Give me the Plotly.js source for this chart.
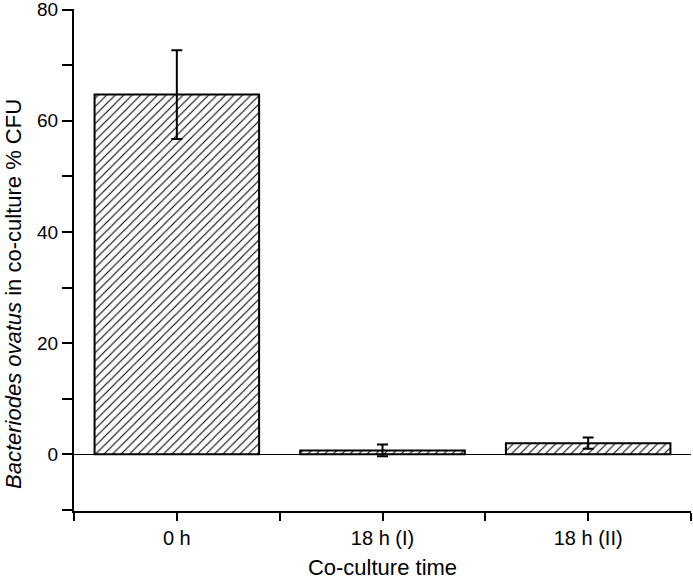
<!DOCTYPE html>
<html>
<head>
<meta charset="utf-8">
<script src="https://cdn.plot.ly/plotly-3.0.1.min.js"></script>
<style>html,body{margin:0;padding:0;background:#fff;}#chart{width:693px;height:584px;}</style>
</head>
<body>
<div id="chart"></div>
<script>
const categories = ["0 h", "18 h (I)", "18 h (II)"];
const values = [64.7, 0.7, 2.0];
const errors = [8.0, 1.05, 1.0];
const yTitle = '<i>Bacteriodes ovatus</i> in co-culture % CFU';
const xTitle = 'Co-culture time';

const xpos = categories.map((c, i) => i);
const fontFam = '"Liberation Sans", Arial, Helvetica, sans-serif';

const W = 693, H = 584, ML = 74, MR = 2, MT = 9, MB = 73;
const PW = W - ML - MR, PH = H - MT - MB;

const trace = {
  type: 'bar',
  x: xpos,
  y: values,
  width: 0.8,
  marker: {
    color: 'white',
    line: {color: 'black', width: 2},
    pattern: {shape: '/', fgcolor: 'black', bgcolor: 'white', size: 6, solidity: 0.18}
  },
  error_y: {type: 'data', array: errors, visible: true, color: 'black', thickness: 2, width: 5.5},
  hoverinfo: 'none'
};

const layout = {
  width: W, height: H,
  margin: {l: ML, r: MR, t: MT, b: MB},
  paper_bgcolor: 'white', plot_bgcolor: 'white',
  font: {family: fontFam, color: 'black'},
  showlegend: false,
  xaxis: {
    range: [-0.5, 2.5],
    tickmode: 'array', tickvals: xpos, ticktext: categories,
    ticks: 'outside', ticklen: 8, tickwidth: 2, tickcolor: 'black',
    minor: {tickmode: 'array', tickvals: [-0.5, 0.5, 1.5, 2.5], ticks: 'outside', ticklen: 8, tickwidth: 2, tickcolor: 'black'},
    showline: true, linecolor: 'black', linewidth: 2,
    showgrid: false, zeroline: false,
    tickfont: {size: 20},
    ticklabeloverflow: 'allow',
    title: {text: xTitle, font: {size: 22}, standoff: 12}
  },
  yaxis: {
    range: [-10.2, 80.1],
    tick0: 0, dtick: 20,
    ticks: 'outside', ticklen: 10, tickwidth: 2, tickcolor: 'black',
    minor: {dtick: 10, ticks: 'outside', ticklen: 10, tickwidth: 2, tickcolor: 'black'},
    showline: true, linecolor: 'black', linewidth: 2,
    showgrid: false,
    zeroline: true, zerolinecolor: 'black', zerolinewidth: 1.5,
    tickfont: {size: 19},
    ticklabeloverflow: 'allow'
  },
  annotations: [{
    text: yTitle, textangle: -90, showarrow: false,
    xref: 'paper', yref: 'paper',
    x: (13 - ML) / PW, y: 1 - (294 - MT) / PH,
    xanchor: 'center', yanchor: 'middle',
    font: {size: 22, family: fontFam, color: 'black'}
  }]
};

Plotly.newPlot('chart', [trace], layout, {displayModeBar: false, staticPlot: true});
</script>
</body>
</html>
